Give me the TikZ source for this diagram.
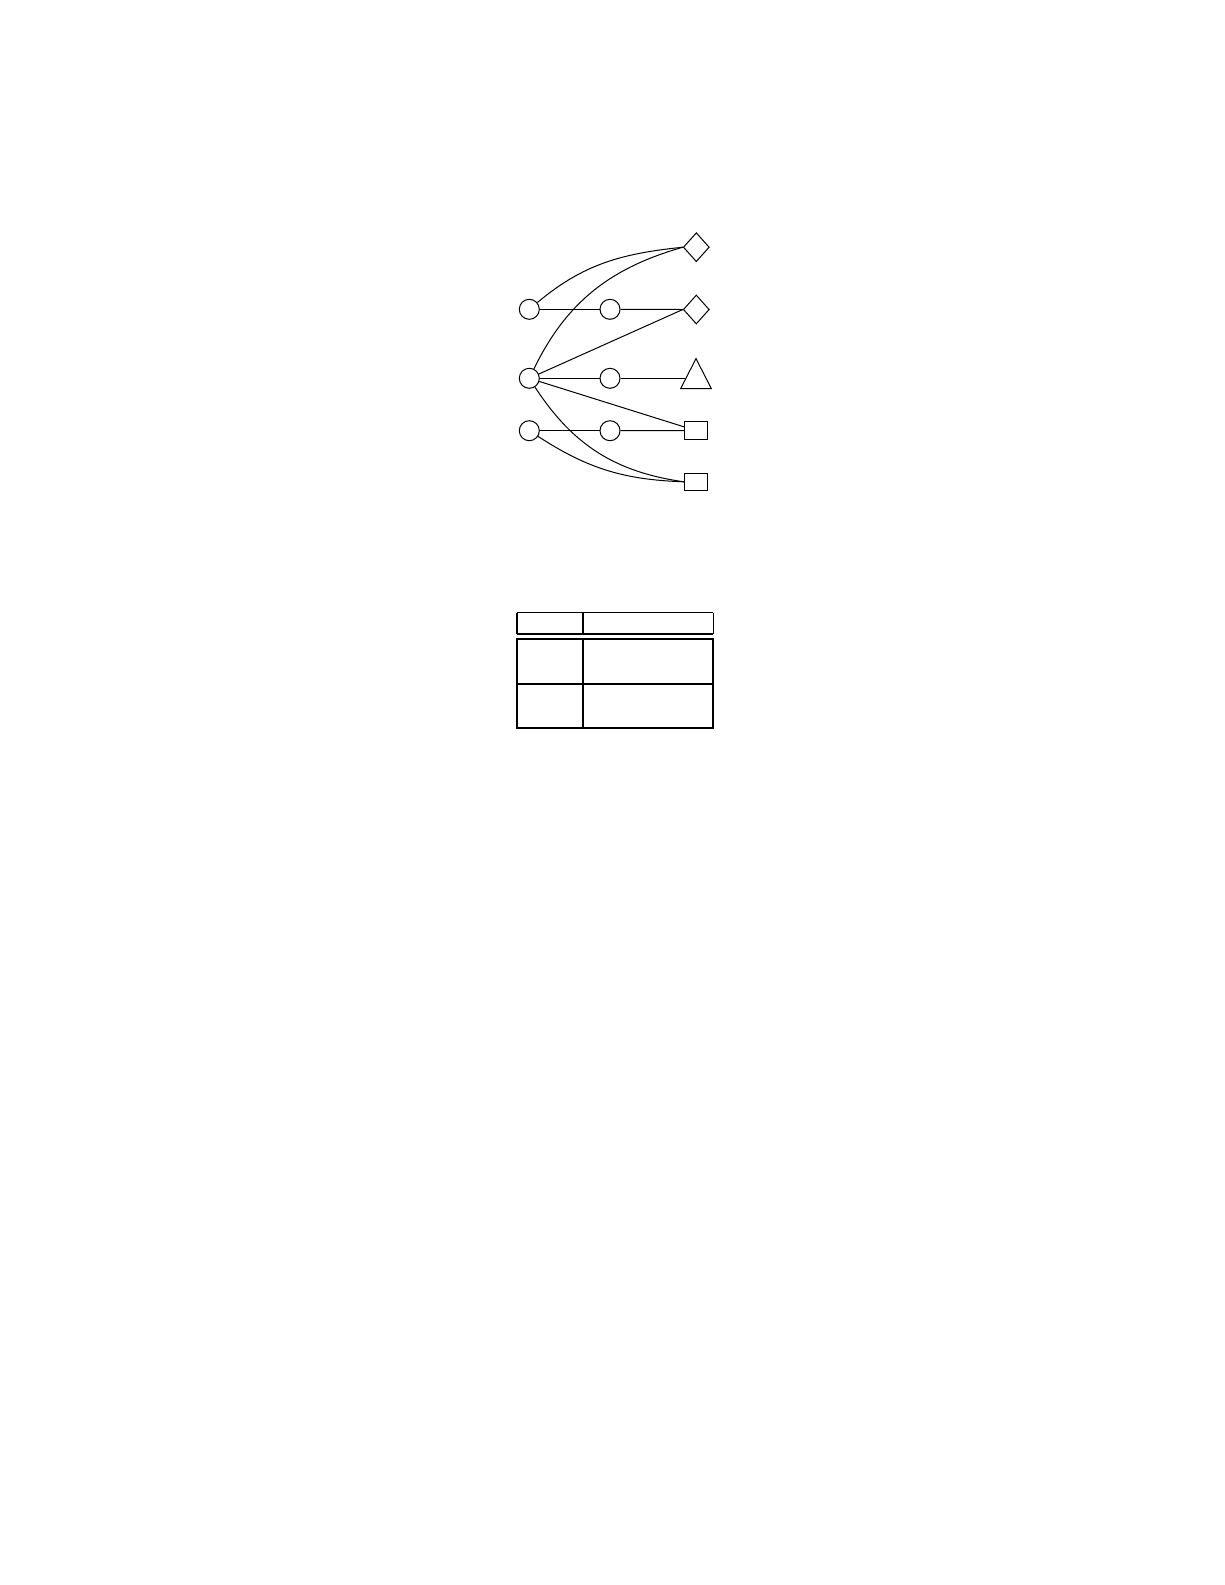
\documentclass[tikz,border=0pt]{standalone}
\usetikzlibrary{shapes.geometric,calc}
\begin{document}
\begin{tikzpicture}[x=0.6pt,y=-0.6pt,
  every node/.style={draw,inner sep=0pt,line width=0.6pt},
  circ/.style={circle,minimum size=12pt},
  diam/.style={diamond,minimum width=15.6pt,minimum height=17.4pt},
  tri/.style={isosceles triangle,isosceles triangle stretches,shape border rotate=90,minimum width=18.4pt,minimum height=18pt},
  sq/.style={rectangle,minimum width=13.8pt,minimum height=10.5pt},
  edge/.style={line width=0.6pt},
  thinrule/.style={line width=0.8pt},
  thickrule/.style={line width=1.3pt}]
\useasboundingbox (0,0) rectangle (1225,1585);
\fill[white] (0,0) rectangle (1225,1585);
% nodes
\node[circ] (A) at (529.3,309.3) {};
\node[circ] (B) at (610,309.3) {};
\node[circ] (C) at (529.3,378.3) {};
\node[circ] (F) at (610,378.3) {};
\node[circ] (D) at (529.3,430.7) {};
\node[circ] (E) at (610,430.7) {};
\node[diam] (D1) at (696.3,247.2) {};
\node[diam] (D2) at (696.3,309.5) {};
\node[tri,anchor=apex] (T) at (696,357.3) {};
\node[sq] (S1) at (696,430.5) {};
\node[sq] (S2) at (696,481.8) {};
% connectors
\draw[edge] (A) -- (B);
\draw[edge] (B) -- (D2.west);
\draw[edge] (A) to[out=40,in=186] (D1.west);
\draw[edge] (C) to[out=64,in=196] (D1.west);
\draw[edge] (C) -- (D2.west);
\draw[edge] (C) -- (F);
\draw[edge] (F) -- ([xshift=2.9pt]F -| T.left corner);
\draw[edge] (C) -- ([yshift=2.2pt]S1.west);
\draw[edge] (C) to[out=-57,in=172] (S2.west);
\draw[edge] (D) -- (E);
\draw[edge] (E) -- (S1.west);
\draw[edge] (D) to[out=-33,in=178] (S2.west);
% table
\draw[thinrule] (517,612.7) -- (713.3,612.7);
\draw[thinrule] (517,612.7) -- (517,634.3);
\draw[thinrule] (713.3,612.7) -- (713.3,634.3);
\draw[thickrule] (517,634.3) -- (713.3,634.3);
\draw[thinrule] (583,612.7) -- (583,634.3);
\draw[thickrule] (517,639.3) rectangle (713.3,727.7);
\draw[thickrule] (517,683.7) -- (713.3,683.7);
\draw[thickrule] (583,639.3) -- (583,727.7);
\end{tikzpicture}
\end{document}
